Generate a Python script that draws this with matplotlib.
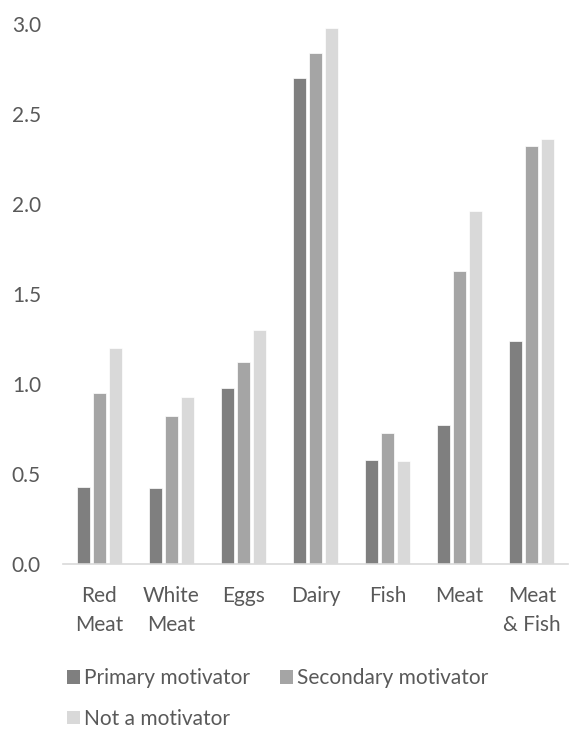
import matplotlib
matplotlib.use("Agg")
import matplotlib.pyplot as plt
from matplotlib.patches import Patch
import numpy as np

categories = ["Red\nMeat", "White\nMeat", "Eggs", "Dairy", "Fish", "Meat", "Meat\n& Fish"]
series_names = ["Primary motivator", "Secondary motivator", "Not a motivator"]
primary = [0.43, 0.42, 0.98, 2.70, 0.58, 0.77, 1.24]
secondary = [0.95, 0.82, 1.12, 2.84, 0.73, 1.63, 2.32]
not_motivator = [1.20, 0.93, 1.30, 2.98, 0.57, 1.96, 2.36]
y_ticks = [0.0, 0.5, 1.0, 1.5, 2.0, 2.5, 3.0]

colors = ["#7f7f7f", "#a5a5a5", "#d9d9d9"]
text_color = "#595959"
plt.rcParams['font.family'] = ['Lato', 'DejaVu Sans']
fs = 15

fig = plt.figure(figsize=(5.69, 7.31), dpi=100)
ax = fig.add_axes([0.111, 0.2285, 0.887, 0.7385])

x = np.arange(len(categories))
step = 0.222
width = 0.185
for i, (vals, c) in enumerate(zip([primary, secondary, not_motivator], colors)):
    ax.bar(x + (i - 1) * step, vals, width=width, color=c, edgecolor="white", linewidth=0.5,
           label=series_names[i])

ax.set_xlim(-0.5, len(categories) - 0.5)
ax.set_ylim(0, 3.0)
ax.set_yticks(y_ticks)
ax.set_yticklabels([f"{v:.1f}" for v in y_ticks])
ax.set_xticks(x)
ax.set_xticklabels(categories, linespacing=1.55)
ax.tick_params(axis="both", length=0, labelsize=fs, colors=text_color)
ax.tick_params(axis="y", pad=16)
ax.tick_params(axis="x", pad=16)
for s in ["top", "right", "left"]:
    ax.spines[s].set_visible(False)
ax.spines["bottom"].set_color("#d9d9d9")
ax.spines["bottom"].set_linewidth(1.2)

handles = [Patch(facecolor=c, edgecolor="none") for c in colors]
order = [0, 2, 1]
leg = fig.legend([handles[i] for i in order], [series_names[i] for i in order],
                 ncol=2, loc="upper left", bbox_to_anchor=(0.118, 0.086),
                 frameon=False, fontsize=fs, handlelength=0.62, handleheight=0.62,
                 handletextpad=0.2, columnspacing=1.42, labelspacing=1.0,
                 borderaxespad=0, borderpad=0)
for t in leg.get_texts():
    t.set_color(text_color)

fig.savefig("out.png", dpi=100)
